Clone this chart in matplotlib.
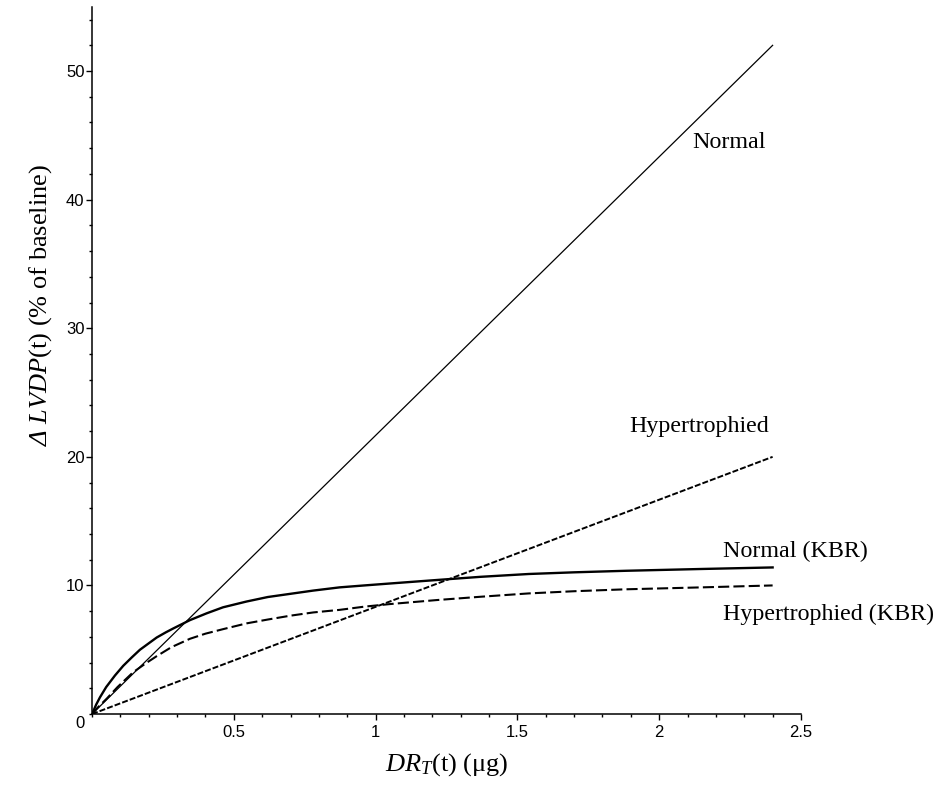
import matplotlib
matplotlib.use("Agg")
import matplotlib.pyplot as plt
from matplotlib.ticker import MultipleLocator, FixedLocator

# italic everywhere in mathtext (Greek capitals go through 'rm')
plt.rcParams['mathtext.fontset'] = 'custom'
plt.rcParams['mathtext.rm'] = 'Liberation Serif:italic'
plt.rcParams['mathtext.it'] = 'Liberation Serif:italic'
plt.rcParams['lines.scale_dashes'] = False

# data
#--------------------------------------
normal_x = [0.0, 2.4]
normal_y = [0.0, 52.0]

hyper_x = [0.0, 2.4]
hyper_y = [0.0, 20.0]

normal_kbr_x = [0.0, 0.015, 0.028, 0.05, 0.081, 0.11, 0.14, 0.169, 0.2, 0.228,
                0.26, 0.286, 0.345, 0.404, 0.462, 0.545, 0.62, 0.7, 0.78, 0.873,
                0.96, 1.05, 1.214, 1.37, 1.54, 1.7, 1.883, 2.15, 2.4]
normal_kbr_y = [0.0, 0.75, 1.3, 2.1, 3.0, 3.75, 4.4, 5.0, 5.5, 5.95,
                6.35, 6.65, 7.3, 7.83, 8.3, 8.75, 9.1, 9.35, 9.6, 9.85,
                10.0, 10.15, 10.42, 10.67, 10.89, 11.02, 11.14, 11.28, 11.4]

hyper_kbr_x = [0.0, 0.02, 0.052, 0.09, 0.145, 0.19, 0.228, 0.28, 0.345, 0.4,
               0.462, 0.545, 0.62, 0.7, 0.78, 0.873, 0.96, 1.05, 1.214, 1.37,
               1.54, 1.7, 1.883, 2.15, 2.4]
hyper_kbr_y = [0.0, 0.5, 1.2, 2.1, 3.25, 3.95, 4.5, 5.2, 5.85, 6.25,
               6.6, 7.05, 7.35, 7.65, 7.9, 8.1, 8.35, 8.55, 8.86, 9.12,
               9.38, 9.55, 9.7, 9.85, 10.0]

x_ticks = [0.5, 1, 1.5, 2, 2.5]
x_tick_labels = ["0.5", "1", "1.5", "2", "2.5"]
y_ticks = [10, 20, 30, 40, 50]
y_tick_labels = ["10", "20", "30", "40", "50"]

# start to draw
#--------------------------------------
fig = plt.figure(figsize=(9.41, 7.85), dpi=100)
ax = fig.add_axes([0.0978, 0.0904, 0.7534, 0.901])

ax.plot(normal_x, normal_y, color='black', lw=0.9)
ax.plot(hyper_x, hyper_y, color='black', lw=1.4, dashes=(4.3, 1.5))
ax.plot(normal_kbr_x, normal_kbr_y, color='black', lw=1.7)
ax.plot(hyper_kbr_x, hyper_kbr_y, color='black', lw=1.5, dashes=(8.0, 3.0))

ax.set_xlim(0, 2.5)
ax.set_ylim(0, 55)

for side in ['top', 'right']:
    ax.spines[side].set_visible(False)
for side in ['left', 'bottom']:
    ax.spines[side].set_linewidth(1.1)

ax.xaxis.set_major_locator(FixedLocator(x_ticks))
ax.set_xticklabels(x_tick_labels)
ax.xaxis.set_minor_locator(MultipleLocator(0.1))
ax.yaxis.set_major_locator(FixedLocator(y_ticks))
ax.set_yticklabels(y_tick_labels)
ax.yaxis.set_minor_locator(MultipleLocator(2))

tick_font = {'family': 'Liberation Sans', 'size': 12}
for lab in ax.get_xticklabels() + ax.get_yticklabels():
    lab.set_fontfamily('Liberation Sans')
    lab.set_fontsize(12)
ax.tick_params(which='major', length=4, width=1.0, color='black')
ax.tick_params(which='minor', length=2, width=1.0, color='black')
ax.tick_params(axis='x', which='major', pad=4)
ax.tick_params(axis='y', which='major', pad=1.5)

# single zero at the origin
ax.annotate("0", xy=(0, 0), xytext=(-7, -9), textcoords='offset pixels',
            ha='right', va='center', **tick_font)

lab_font = {'family': 'Liberation Serif', 'size': 17.3}
ax.text(2.116, 44.0, "Normal", ha='left', va='baseline', **lab_font)
ax.text(1.894, 21.93, "Hypertrophied", ha='left', va='baseline', **lab_font)
ax.text(2.225, 12.2, "Normal (KBR)", ha='left', va='baseline', **lab_font)
ax.text(2.225, 7.31, "Hypertrophied (KBR)", ha='left', va='baseline', **lab_font)

ax.set_xlabel(r"$DR_T$(t) (μg)", family='Liberation Serif', size=19, labelpad=8)
ax.set_ylabel(r"$Δ\ LVDP$(t) (% of baseline)", family='Liberation Serif',
              size=19)
ax.yaxis.set_label_coords(-0.054, 0.578)

plt.savefig("out.png", dpi=100)
